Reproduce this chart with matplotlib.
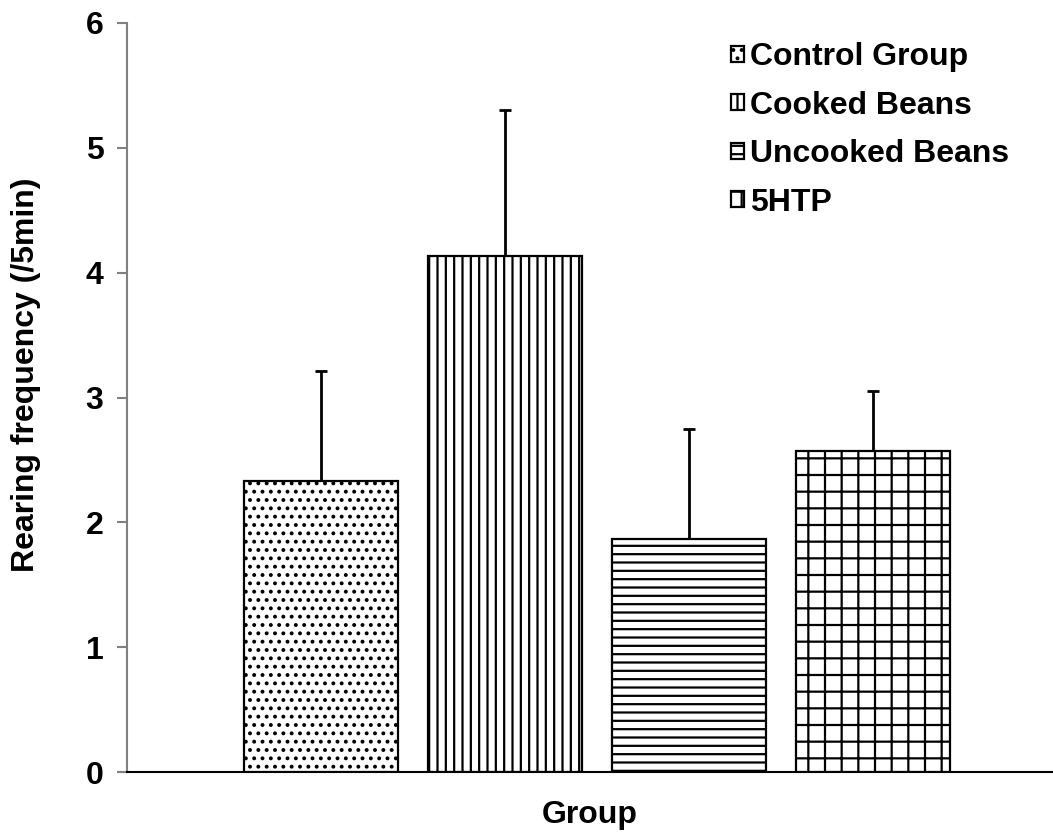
import numpy as np
import matplotlib
matplotlib.use('Agg')
import matplotlib.pyplot as plt

plt.rcParams['font.family'] = ['Liberation Sans', 'DejaVu Sans']
plt.rcParams['font.weight'] = 'bold'
plt.rcParams['hatch.linewidth'] = 1.6

groups = ['Control Group', 'Cooked Beans', 'Uncooked Beans', '5HTP']
means = [2.33, 4.13, 1.87, 2.57]
errors = [0.88, 1.17, 0.88, 0.48]
hatches = ['..', '||', '--', '+']

fig = plt.figure(figsize=(10.53, 8.36), dpi=100)
ax = fig.add_axes([127/1053, 1 - 772/836, 1 - 127/1053, (772 - 23)/836])

x = np.arange(len(groups))
bars = ax.bar(x, means, width=0.837, color='white', edgecolor='black',
              linewidth=1.6, hatch=hatches, label=groups, zorder=2)
ax.errorbar(x, means, yerr=[np.zeros(len(errors)), errors], fmt='none',
            ecolor='black', elinewidth=2, capsize=4.5, capthick=2, zorder=1)

ax.set_xlim(-1.054, 3.978)
ax.set_ylim(0, 6)
ax.set_yticks(range(7))
ax.set_xticks([])
ax.tick_params(axis='y', labelsize=23, direction='out', length=7,
               width=1.5, color='#808080', pad=10)
for t in ax.get_yticklabels():
    t.set_fontweight('bold')

ax.spines['top'].set_visible(False)
ax.spines['right'].set_visible(False)
ax.spines['left'].set_color('#808080')
ax.spines['left'].set_linewidth(1.5)
ax.spines['bottom'].set_linewidth(1.5)

ax.set_ylabel('Rearing frequency (/5min)', fontsize=23, fontweight='bold')
ax.yaxis.set_label_coords(-0.093, 0.53)
ax.set_xlabel('Group', fontsize=23, fontweight='bold', labelpad=20)

leg = ax.legend(loc='upper left', bbox_to_anchor=(731/1053, 1 - 42/836),
                bbox_transform=fig.transFigure, frameon=False, fontsize=23,
                borderpad=0, borderaxespad=0, handlelength=0.4,
                handleheight=0.4, handletextpad=0.2, labelspacing=0.58)
for t in leg.get_texts():
    t.set_fontweight('bold')

fig.savefig('out.png', dpi=100)
